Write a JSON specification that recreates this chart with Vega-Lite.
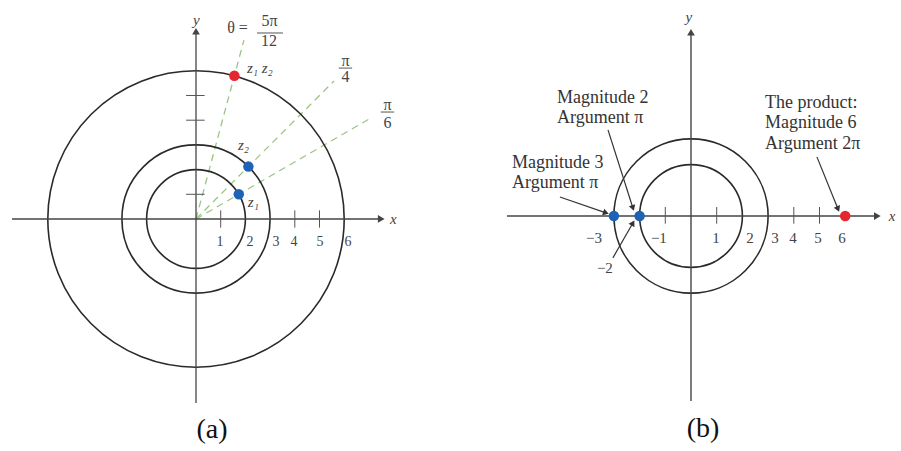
{
  "$schema": "https://vega.github.io/schema/vega-lite/v6.json",
  "background": "white",
  "padding": 0,
  "spacing": 0,
  "config": {"view": {"stroke": null}, "axis": {"disable": true}},
  "resolve": {"scale": {"x": "independent", "y": "independent", "size": "independent", "color": "independent", "shape": "independent"}},
  "hconcat": [
    {
      "width": 450,
      "height": 451,
      "encoding": {
        "x": {"field": "x", "type": "quantitative", "scale": {"domain": [-7.935, 10.283], "nice": false, "zero": false}, "axis": null},
        "y": {"field": "y", "type": "quantitative", "scale": {"domain": [-9.393, 8.866], "nice": false, "zero": false}, "axis": null}
      },
      "layer": [
        {
          "data": {"values": [
            {"x": 0, "y": 0, "x2": 1.94, "y2": 7.24},
            {"x": 0, "y": 0, "x2": 5.59, "y2": 5.59},
            {"x": 0, "y": 0, "x2": 7.15, "y2": 4.13}
          ]},
          "mark": {"type": "rule", "color": "#9cc487", "strokeWidth": 1.3, "strokeDash": [7, 5]},
          "encoding": {"x2": {"field": "x2"}, "y2": {"field": "y2"}}
        },
        {
          "data": {"values": [{"x": 0, "y": 0, "r": 2}, {"x": 0, "y": 0, "r": 3}, {"x": 0, "y": 0, "r": 6}]},
          "mark": {"type": "point", "shape": "circle", "filled": false, "color": "#2a2a2a", "strokeWidth": 1.6, "opacity": 1},
          "encoding": {"size": {"field": "r", "type": "quantitative", "scale": {"type": "pow", "exponent": 2, "domain": [0, 6], "range": [0, 87853]}, "legend": null}}
        },
        {
          "data": {"values": [
            {"x": -7.45, "y": 0, "x2": 7.45, "y2": 0},
            {"x": 0, "y": -7.45, "x2": 0, "y2": 7.5}
          ]},
          "mark": {"type": "rule", "color": "#444", "strokeWidth": 1.3},
          "encoding": {"x2": {"field": "x2"}, "y2": {"field": "y2"}}
        },
        {
          "data": {"values": [
            {"x": 1, "y": -0.35, "x2": 1, "y2": 0.35},
            {"x": 4, "y": -0.35, "x2": 4, "y2": 0.35},
            {"x": 5, "y": -0.35, "x2": 5, "y2": 0.35},
            {"x": -0.4, "y": 1, "x2": 0.35, "y2": 1},
            {"x": -0.4, "y": 4, "x2": 0.35, "y2": 4},
            {"x": -0.4, "y": 5, "x2": 0.35, "y2": 5},
            {"x": 2.47, "y": 7.53, "x2": 3.52, "y2": 7.53},
            {"x": 5.78, "y": 6.11, "x2": 6.32, "y2": 6.11},
            {"x": 7.48, "y": 4.33, "x2": 8.02, "y2": 4.33}
          ]},
          "mark": {"type": "rule", "color": "#555", "strokeWidth": 1},
          "encoding": {"x2": {"field": "x2"}, "y2": {"field": "y2"}}
        },
        {
          "data": {"values": [{"x": 7.5, "y": 0, "dir": "right"}, {"x": 0, "y": 7.6, "dir": "up"}]},
          "mark": {"type": "point", "filled": true, "color": "#444", "size": 60, "opacity": 1},
          "encoding": {"shape": {"field": "dir", "type": "nominal", "scale": {"domain": ["right", "up"], "range": ["triangle-right", "triangle-up"]}, "legend": null}}
        },
        {
          "data": {"values": [
            {"x": 1.732, "y": 1, "c": "factor"},
            {"x": 2.121, "y": 2.121, "c": "factor"},
            {"x": 1.553, "y": 5.796, "c": "product"}
          ]},
          "mark": {"type": "point", "filled": true, "size": 110, "opacity": 1},
          "encoding": {"color": {"field": "c", "type": "nominal", "scale": {"domain": ["factor", "product"], "range": ["#1f63b5", "#e5262f"]}, "legend": null}}
        },
        {
          "data": {"values": [
            {"x": 0.97, "y": -0.93, "t": "1"},
            {"x": 2.19, "y": -0.93, "t": "2"},
            {"x": 3.24, "y": -0.93, "t": "3"},
            {"x": 3.97, "y": -0.93, "t": "4"},
            {"x": 5.02, "y": -0.93, "t": "5"},
            {"x": 6.15, "y": -0.93, "t": "6"}
          ]},
          "mark": {"type": "text", "font": "Liberation Serif", "fontSize": 14, "color": "#444", "baseline": "middle", "align": "center"},
          "encoding": {"text": {"field": "t"}}
        },
        {
          "data": {"values": [
            {"x": 1.68, "y": 7.73, "t": "θ ="},
            {"x": 2.98, "y": 8.02, "t": "5π"},
            {"x": 2.96, "y": 7.22, "t": "12"},
            {"x": 6.05, "y": 6.4, "t": "π"},
            {"x": 6.05, "y": 5.75, "t": "4"},
            {"x": 7.75, "y": 4.61, "t": "π"},
            {"x": 7.75, "y": 3.9, "t": "6"}
          ]},
          "mark": {"type": "text", "font": "Liberation Serif", "fontSize": 16, "color": "#444", "baseline": "middle", "align": "center"},
          "encoding": {"text": {"field": "t"}}
        },
        {
          "data": {"values": [
            {"x": 7.85, "y": 0, "t": "x"},
            {"x": -0.12, "y": 8.06, "t": "y"},
            {"x": 2.06, "y": 6.11, "t": "z₁ z₂"},
            {"x": 1.7, "y": 3.0, "t": "z₂"},
            {"x": 2.1, "y": 0.69, "t": "z₁"}
          ]},
          "mark": {"type": "text", "font": "Liberation Serif", "fontSize": 15, "fontStyle": "italic", "color": "#444", "baseline": "middle", "align": "left"},
          "encoding": {"text": {"field": "t"}}
        },
        {
          "data": {"values": [{"x": 0.65, "y": -8.54, "t": "(a)"}]},
          "mark": {"type": "text", "font": "Liberation Serif", "fontSize": 28, "color": "#111", "baseline": "middle", "align": "center"},
          "encoding": {"text": {"field": "t"}}
        }
      ]
    },
    {
      "width": 451,
      "height": 451,
      "encoding": {
        "x": {"field": "x", "type": "quantitative", "scale": {"domain": [-9.377, 8.171], "nice": false, "zero": false}, "axis": null},
        "y": {"field": "y", "type": "quantitative", "scale": {"domain": [-9.144, 8.405], "nice": false, "zero": false}, "axis": null}
      },
      "layer": [
        {
          "data": {"values": [{"x": 0, "y": 0, "r": 2}, {"x": 0, "y": 0, "r": 3}]},
          "mark": {"type": "point", "shape": "circle", "filled": false, "color": "#2a2a2a", "strokeWidth": 1.6, "opacity": 1},
          "encoding": {"size": {"field": "r", "type": "quantitative", "scale": {"type": "pow", "exponent": 2, "domain": [0, 3], "range": [0, 23778]}, "legend": null}}
        },
        {
          "data": {"values": [
            {"x": -7.16, "y": 0, "x2": 7.2, "y2": 0},
            {"x": 0, "y": -7.2, "x2": 0, "y2": 7.05}
          ]},
          "mark": {"type": "rule", "color": "#444", "strokeWidth": 1.4},
          "encoding": {"x2": {"field": "x2"}, "y2": {"field": "y2"}}
        },
        {
          "data": {"values": [
            {"x": -1, "y": -0.3, "x2": -1, "y2": 0.35},
            {"x": 1, "y": -0.3, "x2": 1, "y2": 0.35},
            {"x": 4, "y": -0.3, "x2": 4, "y2": 0.35},
            {"x": 5, "y": -0.3, "x2": 5, "y2": 0.35}
          ]},
          "mark": {"type": "rule", "color": "#555", "strokeWidth": 1},
          "encoding": {"x2": {"field": "x2"}, "y2": {"field": "y2"}}
        },
        {
          "data": {"values": [{"x": 7.25, "y": 0, "dir": "right"}, {"x": 0, "y": 7.15, "dir": "up"}]},
          "mark": {"type": "point", "filled": true, "color": "#444", "size": 60, "opacity": 1},
          "encoding": {"shape": {"field": "dir", "type": "nominal", "scale": {"domain": ["right", "up"], "range": ["triangle-right", "triangle-up"]}, "legend": null}}
        },
        {
          "data": {"values": [
            {"x": -5.1, "y": 0.74, "x2": -3.31, "y2": 0.12},
            {"x": -3.23, "y": 3.35, "x2": -2.26, "y2": 0.31},
            {"x": -3.04, "y": -1.63, "x2": -2.26, "y2": -0.27},
            {"x": 4.9, "y": 2.3, "x2": 5.72, "y2": 0.27}
          ]},
          "layer": [
            {
              "mark": {"type": "rule", "color": "#333", "strokeWidth": 1.2},
              "encoding": {"x2": {"field": "x2"}, "y2": {"field": "y2"}}
            },
            {
              "transform": [{"calculate": "atan2(datum.x2 - datum.x, datum.y2 - datum.y) * 180 / PI", "as": "ang"}],
              "mark": {"type": "point", "shape": "triangle-up", "filled": true, "color": "#333", "size": 45, "opacity": 1},
              "encoding": {
                "x": {"field": "x2", "type": "quantitative"},
                "y": {"field": "y2", "type": "quantitative"},
                "angle": {"field": "ang", "type": "quantitative", "scale": null}
              }
            }
          ]
        },
        {
          "data": {"values": [
            {"x": -3, "y": 0, "c": "factor"},
            {"x": -2, "y": 0, "c": "factor"},
            {"x": 6, "y": 0, "c": "product"}
          ]},
          "mark": {"type": "point", "filled": true, "size": 110, "opacity": 1},
          "encoding": {"color": {"field": "c", "type": "nominal", "scale": {"domain": ["factor", "product"], "range": ["#1f63b5", "#e5262f"]}, "legend": null}}
        },
        {
          "data": {"values": [
            {"x": -3.77, "y": -0.86, "t": "−3"},
            {"x": -1.25, "y": -0.86, "t": "−1"},
            {"x": 0.97, "y": -0.86, "t": "1"},
            {"x": 2.3, "y": -0.86, "t": "2"},
            {"x": 3.27, "y": -0.86, "t": "3"},
            {"x": 3.97, "y": -0.86, "t": "4"},
            {"x": 4.94, "y": -0.86, "t": "5"},
            {"x": 5.88, "y": -0.86, "t": "6"},
            {"x": -3.35, "y": -2.02, "t": "−2"}
          ]},
          "mark": {"type": "text", "font": "Liberation Serif", "fontSize": 15, "color": "#444", "baseline": "middle", "align": "center"},
          "encoding": {"text": {"field": "t"}}
        },
        {
          "data": {"values": [
            {"x": 7.82, "y": 0, "t": "x"},
            {"x": -0.08, "y": 7.74, "t": "y"}
          ]},
          "mark": {"type": "text", "font": "Liberation Serif", "fontSize": 15, "fontStyle": "italic", "color": "#444", "baseline": "middle", "align": "center"},
          "encoding": {"text": {"field": "t"}}
        },
        {
          "data": {"values": [
            {"x": -5.21, "y": 4.59, "t": "Magnitude 2"},
            {"x": -5.21, "y": 3.81, "t": "Argument π"},
            {"x": -6.96, "y": 2.06, "t": "Magnitude 3"},
            {"x": -6.96, "y": 1.28, "t": "Argument π"},
            {"x": 2.88, "y": 4.4, "t": "The product:"},
            {"x": 2.88, "y": 3.62, "t": "Magnitude 6"},
            {"x": 2.88, "y": 2.8, "t": "Argument 2π"}
          ]},
          "mark": {"type": "text", "font": "Liberation Serif", "fontSize": 18, "color": "#333", "baseline": "middle", "align": "left"},
          "encoding": {"text": {"field": "t"}}
        },
        {
          "data": {"values": [{"x": 0.47, "y": -8.29, "t": "(b)"}]},
          "mark": {"type": "text", "font": "Liberation Serif", "fontSize": 28, "color": "#111", "baseline": "middle", "align": "center"},
          "encoding": {"text": {"field": "t"}}
        }
      ]
    }
  ]
}
